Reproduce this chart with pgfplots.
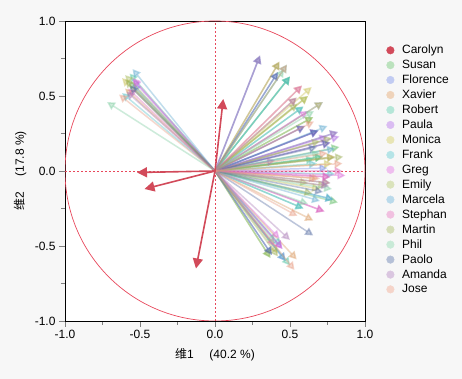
\documentclass[border=0pt]{standalone}
\usepackage{fontspec}
\setmainfont{Liberation Sans}
\newfontfamily\cjk{Noto Sans CJK SC}
\usepackage{pgfplots}
\pgfplotsset{compat=1.18}
\usetikzlibrary{arrows.meta}
\definecolor{bgc}{HTML}{F7F7F7}
\definecolor{circred}{HTML}{E8485C}
\definecolor{cCarolyn}{HTML}{D24A5A}
\definecolor{cSusan}{HTML}{5DBB63}
\definecolor{cFlorence}{HTML}{6C84E0}
\definecolor{cXavier}{HTML}{D9965B}
\definecolor{cRobert}{HTML}{4FC3A1}
\definecolor{cPaula}{HTML}{A65FE0}
\definecolor{cMonica}{HTML}{C8C050}
\definecolor{cFrank}{HTML}{4FBFC6}
\definecolor{cGreg}{HTML}{D865D8}
\definecolor{cEmily}{HTML}{A8BC5C}
\definecolor{cMarcela}{HTML}{5AA8CF}
\definecolor{cStephan}{HTML}{DE6AB6}
\definecolor{cMartin}{HTML}{9CAE55}
\definecolor{cPhil}{HTML}{7DCDA0}
\definecolor{cPaolo}{HTML}{5068A0}
\definecolor{cAmanda}{HTML}{A878B5}
\definecolor{cJose}{HTML}{E7987E}
\newcommand{\grp}[2]{\addplot[forget plot, draw=#1, fill=#1, opacity=0.38, line width=1.5pt,
  -{Triangle[width=8.5pt,length=8pt]},
  quiver={u=\thisrow{u},v=\thisrow{v}}] table[x expr=0,y expr=0,row sep=\\]{#2};}
\newcommand{\legitem}[2]{\addlegendimage{legcol=#1}\addlegendentry{#2}}
\pgfplotsset{legcol/.code={\def\mylegcol{#1}}}
\begin{document}
\begin{tikzpicture}
\fill[bgc] (0,0) rectangle (462pt,379pt);
\begin{axis}[
  at={(65pt,58pt)}, anchor=south west,
  width=300pt, height=300pt, scale only axis,
  xmin=-1, xmax=1, ymin=-1, ymax=1,
  axis background/.style={fill=white},
  axis line style={black, line width=0.9pt},
  xtick={-1,-0.5,0,0.5,1}, ytick={-1,-0.5,0,0.5,1},
  xticklabels={-1.0,-0.5,0.0,0.5,1.0}, yticklabels={-1.0,-0.5,0.0,0.5,1.0},
  minor xtick={-0.75,-0.25,0.25,0.75}, minor ytick={-0.75,-0.25,0.25,0.75},
  tick align=outside, xtick pos=lower, ytick pos=left,
  major tick length=6pt, minor tick length=4pt,
  every tick/.style={gray, line width=0.6pt},
  ticklabel style={font=\fontsize{12}{14}\selectfont},
  xlabel={{\cjk 维}1\hspace{1.3em}(40.2 \%)},
  ylabel={{\cjk 维}2\hspace{1.3em}(17.8 \%)},
  every axis x label/.style={at={(axis description cs:0.5,-0.113)},anchor=center,font=\fontsize{12}{14}\selectfont},
  every axis y label/.style={at={(axis description cs:-0.15,0.5)},rotate=90,anchor=center,font=\fontsize{12}{14}\selectfont},
  legend style={at={(axis description cs:1.07,0.925)}, anchor=north west, draw=none, fill=none,
    font=\fontsize{12}{14}\selectfont, row sep=1.8pt, inner sep=0pt,
    nodes={inner sep=1.5pt}},
  legend cell align=left,
  legend image code/.code={\begingroup #1 \fill[color=\mylegcol] (4pt,0) circle (3.8pt); \path (0,0) (14pt,0);\endgroup},
]
\draw[circred, dash pattern=on 2pt off 2pt, line width=0.7pt] (axis cs:-1,0) -- (axis cs:1,0);
\draw[circred, dash pattern=on 2pt off 2pt, line width=0.7pt] (axis cs:0,-1) -- (axis cs:0,1);
\draw[circred, line width=0.7pt] (axis cs:0,0) circle[radius=1];

\grp{cSusan}{u v\\ -0.58 0.60\\ 0.50 0.63\\ 0.655 0.36\\ 0.72 0.095\\ 0.77 -0.08\\ 0.82 -0.21\\ 0.37 -0.58\\ 0.83 0.16\\}
\grp{cFlorence}{u v\\ -0.55 0.58\\ 0.42 0.66\\ 0.72 0.46\\ 0.69 0.27\\ 0.82 0.26\\ 0.75 0.02\\ 0.47 -0.60\\ 0.38 -0.56\\}
\grp{cXavier}{u v\\ -0.60 0.55\\ 0.43 0.73\\ 0.58 0.57\\ 0.545 0.49\\ 0.80 0.095\\ 0.68 -0.05\\ 0.655 -0.33\\ 0.545 -0.59\\}
\grp{cRobert}{u v\\ -0.57 0.65\\ 0.48 0.71\\ 0.50 0.63\\ 0.59 0.43\\ 0.72 0.095\\ 0.59 -0.25\\ 0.50 -0.63\\ 0.66 0.08\\}
\grp{cPaula}{u v\\ -0.55 0.61\\ 0.30 0.77\\ 0.60 0.30\\ 0.69 0.27\\ 0.83 0.23\\ 0.77 0.19\\ 0.45 -0.52\\ 0.75 0.23\\}
\grp{cMonica}{u v\\ -0.62 0.62\\ 0.645 0.56\\ 0.62 0.50\\ 0.72 0.46\\ 0.78 0.05\\ 0.70 -0.12\\ 0.42 -0.55\\}
\grp{cFrank}{u v\\ -0.62 0.52\\ 0.50 0.63\\ 0.59 0.43\\ 0.68 0.05\\ 0.79 -0.19\\ 0.59 -0.25\\ 0.44 -0.50\\ 0.80 -0.02\\}
\grp{cGreg}{u v\\ -0.55 0.62\\ 0.87 -0.03\\ 0.77 -0.04\\ 0.73 -0.27\\ 0.43 -0.45\\ 0.45 -0.52\\ 0.62 0.40\\}
\grp{cEmily}{u v\\ -0.60 0.64\\ 0.62 0.50\\ 0.655 0.36\\ 0.80 0.095\\ 0.74 -0.10\\ 0.37 -0.58\\ 0.70 0.20\\ 0.62 -0.08\\}
\grp{cMarcela}{u v\\ -0.55 0.68\\ 0.30 0.77\\ 0.79 -0.19\\ 0.47 -0.60\\ 0.75 0.30\\ 0.80 0.15\\ 0.70 -0.20\\}
\grp{cStephan}{u v\\ -0.58 0.55\\ 0.58 0.57\\ 0.77 -0.04\\ 0.77 -0.08\\ 0.73 -0.27\\ 0.85 0.00\\ 0.40 -0.50\\}
\grp{cMartin}{u v\\ -0.60 0.61\\ 0.43 0.73\\ 0.855 0.095\\ 0.78 0.22\\ 0.65 -0.15\\ 0.42 -0.57\\ 0.55 0.45\\}
\grp{cPhil}{u v\\ -0.72 0.46\\ 0.46 0.68\\ 0.70 0.12\\ 0.62 -0.22\\ 0.40 -0.48\\ 0.66 0.40\\ 0.78 -0.12\\}
\grp{cPaolo}{u v\\ -0.57 0.57\\ 0.42 0.66\\ 0.60 0.30\\ 0.69 0.27\\ 0.77 0.19\\ 0.72 -0.14\\ 0.655 -0.43\\ 0.38 -0.56\\ 0.68 0.16\\}
\grp{cAmanda}{u v\\ -0.59 0.53\\ 0.30 0.77\\ 0.545 0.49\\ 0.82 0.26\\ 0.40 0.07\\ 0.50 -0.46\\ 0.76 -0.10\\}
\grp{cJose}{u v\\ -0.64 0.51\\ 0.48 0.71\\ 0.53 -0.66\\ 0.75 0.12\\ 0.70 -0.05\\ 0.66 0.33\\ 0.55 -0.30\\ 0.85 0.05\\}

\addplot[forget plot, draw=cCarolyn, fill=cCarolyn, line width=1.6pt,
  -{Triangle[width=10pt,length=10pt]},
  quiver={u=\thisrow{u},v=\thisrow{v}}] table[x expr=0,y expr=0,row sep=\\]{u v\\ 0.055 0.48\\ -0.52 -0.01\\ -0.47 -0.12\\ -0.127 -0.65\\};

\legitem{cCarolyn}{Carolyn}
\legitem{cSusan!42!white}{Susan}
\legitem{cFlorence!42!white}{Florence}
\legitem{cXavier!42!white}{Xavier}
\legitem{cRobert!42!white}{Robert}
\legitem{cPaula!42!white}{Paula}
\legitem{cMonica!42!white}{Monica}
\legitem{cFrank!42!white}{Frank}
\legitem{cGreg!42!white}{Greg}
\legitem{cEmily!42!white}{Emily}
\legitem{cMarcela!42!white}{Marcela}
\legitem{cStephan!42!white}{Stephan}
\legitem{cMartin!42!white}{Martin}
\legitem{cPhil!42!white}{Phil}
\legitem{cPaolo!42!white}{Paolo}
\legitem{cAmanda!42!white}{Amanda}
\legitem{cJose!42!white}{Jose}
\node[anchor=west, font=\fontsize{12}{14}\selectfont\cjk, inner sep=0pt] at (axis description cs:1.06,0.98) {区组};
\end{axis}
\end{tikzpicture}
\end{document}
